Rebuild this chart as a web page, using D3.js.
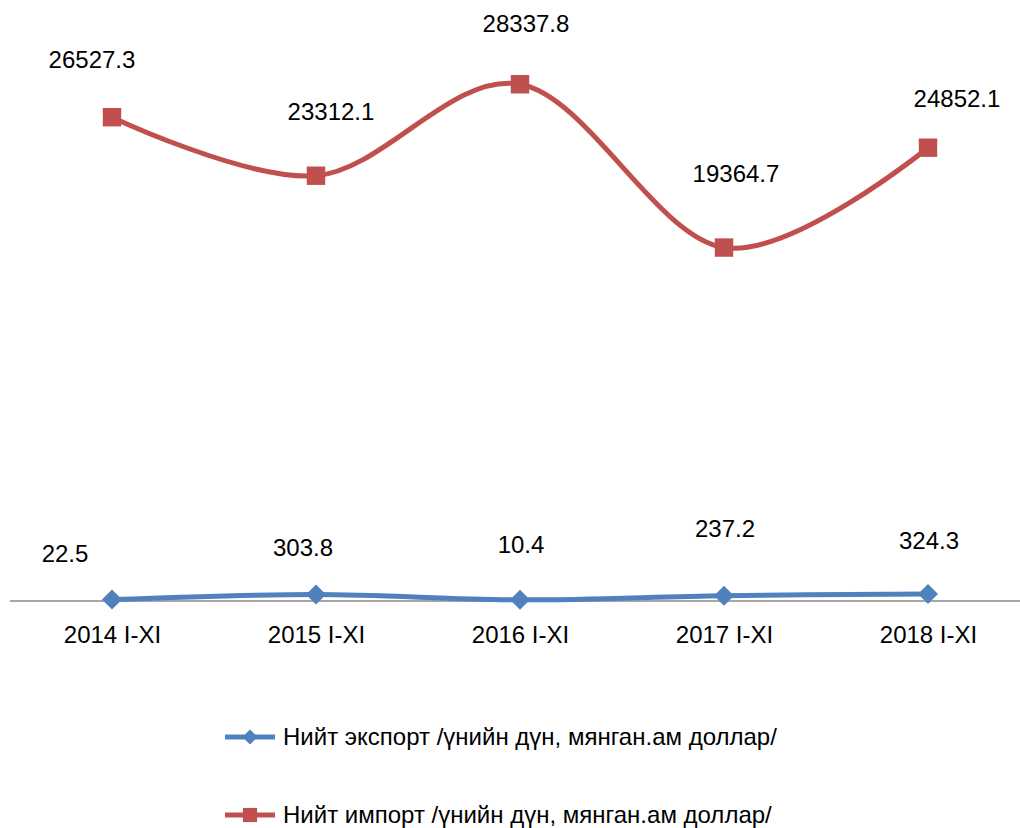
<!DOCTYPE html>
<html>
<head>
<meta charset="utf-8">
<script src="https://cdn.jsdelivr.net/npm/d3@7"></script>
<style>
  html, body { margin: 0; padding: 0; background: #fff; }
  svg { display: block; font-family: "Liberation Sans", Arial, sans-serif; }
</style>
</head>
<body>
<svg id="chart" width="1020" height="828"></svg>
<script>
// Periods on the x axis
const categories = ["2014 I-XI", "2015 I-XI", "2016 I-XI", "2017 I-XI", "2018 I-XI"];
// Total exports and imports, thousand US dollars
const exportValues = [22.5, 303.8, 10.4, 237.2, 324.3];
const importValues = [26527.3, 23312.1, 28337.8, 19364.7, 24852.1];
const seriesNames = [
  "Нийт экспорт /үнийн дүн, мянган.ам доллар/",
  "Нийт импорт /үнийн дүн, мянган.ам доллар/"
];

// Hand-placed data label offsets (dx from point centre, dy to text baseline)
const exportLabelOffsets = [[-47, -38], [-13, -38], [1, -47], [1, -59], [1, -45]];
const importLabelOffsets = [[-20, -49], [15, -56], [6, -52], [12, -66], [29, -41]];

const svg = d3.select("#chart");

const x = d3.scalePoint().domain(categories).range([112, 928]);
const y = d3.scaleLinear().domain([0, 30000]).range([600, 54]);

// Diamonds are squares turned by 45 degrees
const series = [
  { name: seriesNames[0], values: exportValues, color: "#4F81BD", rotate: 45, size: 200, legendSize: 110, offsets: exportLabelOffsets },
  { name: seriesNames[1], values: importValues, color: "#C0504D", rotate: 0, size: 340, legendSize: 200, offsets: importLabelOffsets }
];

// Category axis along the zero line
const xAxis = d3.axisBottom(x).tickSize(0).tickPadding(26);
const axisG = svg.append("g")
  .attr("transform", `translate(0,${y(0)})`)
  .call(xAxis);
axisG.select(".domain").remove();
axisG.selectAll("text")
  .attr("font-size", 24)
  .attr("font-family", "Liberation Sans, Arial, sans-serif")
  .attr("fill", "#000");
svg.append("line")
  .attr("x1", 10).attr("x2", 1020)
  .attr("y1", y(0) + 1).attr("y2", y(0) + 1)
  .attr("stroke", "#8a8a8a").attr("stroke-width", 1.5);

const line = d3.line()
  .x((d, i) => x(categories[i]))
  .y(d => y(d))
  .curve(d3.curveCardinal.tension(0));

series.forEach(s => {
  const g = svg.append("g");
  g.append("path")
    .datum(s.values)
    .attr("d", line)
    .attr("fill", "none")
    .attr("stroke", s.color)
    .attr("stroke-width", 5)
    .attr("stroke-linejoin", "round");

  g.selectAll("path.marker")
    .data(s.values)
    .join("path")
    .attr("class", "marker")
    .attr("d", d3.symbol().type(d3.symbolSquare).size(s.size))
    .attr("transform", (d, i) => `translate(${x(categories[i])},${y(d)}) rotate(${s.rotate})`)
    .attr("fill", s.color);

  g.selectAll("text.value")
    .data(s.values)
    .join("text")
    .attr("class", "value")
    .attr("x", (d, i) => x(categories[i]) + s.offsets[i][0])
    .attr("y", (d, i) => y(d) + s.offsets[i][1])
    .attr("text-anchor", "middle")
    .attr("font-size", 24)
    .attr("fill", "#000")
    .text(d => d.toFixed(1));
});

// Legend below the axis
const legend = svg.append("g");
series.forEach((s, i) => {
  const ly = 737 + i * 78;
  const row = legend.append("g");
  row.append("line")
    .attr("x1", 225).attr("x2", 275)
    .attr("y1", ly).attr("y2", ly)
    .attr("stroke", s.color).attr("stroke-width", 5);
  row.append("path")
    .attr("d", d3.symbol().type(d3.symbolSquare).size(s.legendSize))
    .attr("transform", `translate(250,${ly}) rotate(${s.rotate})`)
    .attr("fill", s.color);
  row.append("text")
    .attr("x", 283).attr("y", ly + 8)
    .attr("font-size", 24)
    .attr("fill", "#000")
    .text(s.name);
});
</script>
</body>
</html>
